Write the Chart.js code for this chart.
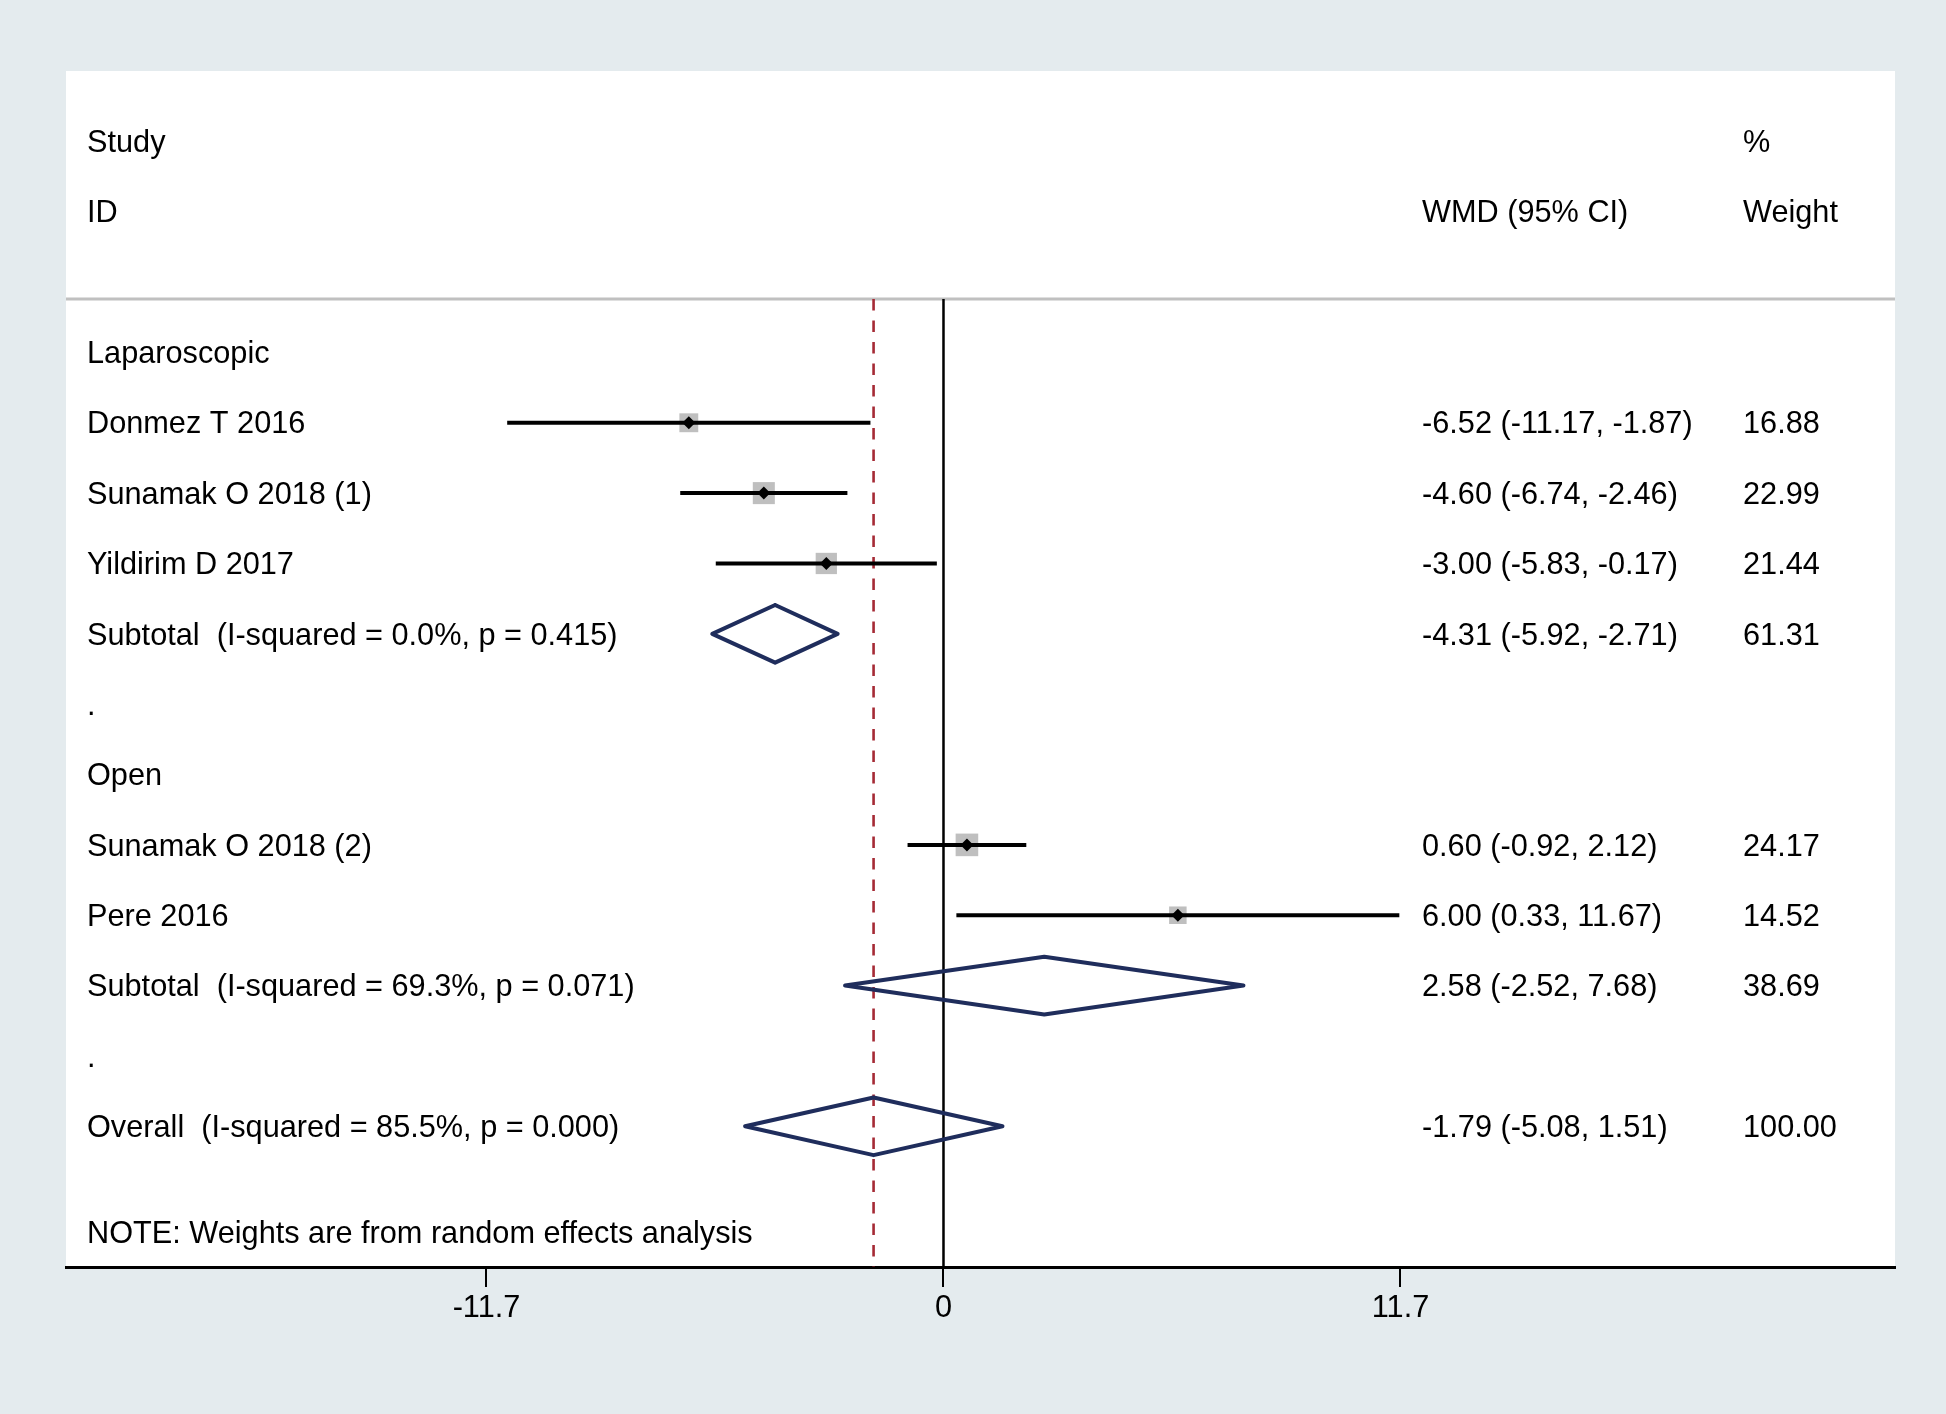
<!DOCTYPE html>
<html lang="en">
<head>
    <meta charset="UTF-8">
    <title>Forest plot: WMD (95% CI)</title>
    <script src="https://cdn.jsdelivr.net/npm/chart.js"></script>
    <style>
        html, body { margin: 0; padding: 0; background: #e4ebee; }
        #wrap { width: 1946px; height: 1414px; position: relative; }
    </style>
</head>
<body>
    <div id="wrap"><canvas id="forest"></canvas></div>

    <script>
        // studies (row = line in the plot, counted from "Laparoscopic" = 0)
        const studyLabels = ['Donmez T 2016', 'Sunamak O 2018 (1)', 'Yildirim D 2017', 'Sunamak O 2018 (2)', 'Pere 2016'];
        const studyRows = [1, 2, 3, 7, 8];
        const studyWmd = [-6.52, -4.60, -3.00, 0.60, 6.00];
        const studyLo = [-11.17, -6.74, -5.83, -0.92, 0.33];
        const studyHi = [-1.87, -2.46, -0.17, 2.12, 11.67];
        const studyWeight = [16.88, 22.99, 21.44, 24.17, 14.52];

        // subtotals and overall
        const pooledLabels = [
            'Subtotal  (I-squared = 0.0%, p = 0.415)',
            'Subtotal  (I-squared = 69.3%, p = 0.071)',
            'Overall  (I-squared = 85.5%, p = 0.000)'
        ];
        const pooledRows = [4, 9, 11];
        const pooledWmd = [-4.31, 2.58, -1.79];
        const pooledLo = [-5.92, -2.52, -5.08];
        const pooledHi = [-2.71, 7.68, 1.51];
        const pooledWeight = [61.31, 38.69, 100.00];

        // group headings and spacer rows
        const groupLabels = ['Laparoscopic', '.', 'Open', '.'];
        const groupRows = [0, 5, 6, 10];

        const noteText = 'NOTE: Weights are from random effects analysis';
        const xTicks = [-11.7, 0, 11.7];
        const overallWmd = pooledWmd[2];

        const FONT = "30.7px 'Liberation Sans', Arial, sans-serif";
        const ROW_TOP = -4, ROW_BOTTOM = 13, HEADER_ROW = -0.76, NOTE_ROW = 12.5;

        const datasets = [];

        // reference lines
        datasets.push({
            data: [{ x: 0, y: HEADER_ROW }, { x: 0, y: ROW_BOTTOM }],
            borderColor: '#000', borderWidth: 2.5, order: 6
        });
        datasets.push({
            data: [{ x: overallWmd, y: HEADER_ROW }, { x: overallWmd, y: ROW_BOTTOM }],
            borderColor: '#a52a35', borderWidth: 2.6, borderDash: [11.5, 10], order: 5
        });

        // weight squares
        datasets.push({
            type: 'scatter',
            data: studyWmd.map((v, i) => ({ x: v, y: studyRows[i] })),
            pointStyle: 'rect',
            pointRadius: studyWeight.map(w => 3.25 * Math.sqrt(w)),
            backgroundColor: '#bfbfbf', borderWidth: 0, order: 4
        });

        // confidence intervals
        studyLo.forEach((lo, i) => {
            datasets.push({
                data: [{ x: lo, y: studyRows[i] }, { x: studyHi[i], y: studyRows[i] }],
                borderColor: '#000', borderWidth: 4, borderCapStyle: 'butt', order: 3
            });
        });

        // point estimates
        datasets.push({
            type: 'scatter',
            data: studyWmd.map((v, i) => ({ x: v, y: studyRows[i] })),
            pointStyle: 'rectRot', pointRadius: 6.5,
            backgroundColor: '#000', borderWidth: 0, order: 1
        });

        // pooled diamonds
        pooledWmd.forEach((v, i) => {
            const r = pooledRows[i];
            datasets.push({
                data: [
                    { x: v, y: r - 0.41 }, { x: pooledHi[i], y: r },
                    { x: v, y: r + 0.41 }, { x: pooledLo[i], y: r },
                    { x: v, y: r - 0.41 }
                ],
                borderColor: '#1f2d5c', borderWidth: 4,
                borderJoinStyle: 'round', borderCapStyle: 'round', order: 2
            });
        });

        const forestText = {
            id: 'forestText',
            beforeDraw(chart) {
                const { ctx, chartArea: a, scales } = chart;
                ctx.save();
                ctx.fillStyle = '#fff';
                ctx.fillRect(a.left, a.top, a.right - a.left, a.bottom - a.top);
                const hy = scales.y.getPixelForValue(HEADER_ROW);
                ctx.strokeStyle = '#c0c0c0';
                ctx.lineWidth = 3;
                ctx.beginPath();
                ctx.moveTo(a.left, hy);
                ctx.lineTo(a.right, hy);
                ctx.stroke();
                ctx.restore();
            },
            afterDraw(chart) {
                const { ctx, chartArea: a, scales } = chart;
                const y = scales.y;
                const base = row => y.getPixelForValue(row) + 10.7;
                const colLabel = a.left + 21;
                const colWmd = a.right - 473;
                const colWeight = a.right - 152;
                const ci = (v, lo, hi) => `${v.toFixed(2)} (${lo.toFixed(2)}, ${hi.toFixed(2)})`;
                ctx.save();
                ctx.font = FONT;
                ctx.fillStyle = '#000';
                ctx.textBaseline = 'alphabetic';
                ctx.textAlign = 'left';

                ctx.fillText('Study', colLabel, base(-3));
                ctx.fillText('ID', colLabel, base(-2));
                ctx.fillText('%', colWeight, base(-3));
                ctx.fillText('WMD (95% CI)', colWmd, base(-2));
                ctx.fillText('Weight', colWeight, base(-2));

                groupLabels.forEach((t, i) => ctx.fillText(t, colLabel, base(groupRows[i])));

                studyLabels.forEach((t, i) => {
                    const py = base(studyRows[i]);
                    ctx.fillText(t, colLabel, py);
                    ctx.fillText(ci(studyWmd[i], studyLo[i], studyHi[i]), colWmd, py);
                    ctx.fillText(studyWeight[i].toFixed(2), colWeight, py);
                });

                pooledLabels.forEach((t, i) => {
                    const py = base(pooledRows[i]);
                    ctx.fillText(t, colLabel, py);
                    ctx.fillText(ci(pooledWmd[i], pooledLo[i], pooledHi[i]), colWmd, py);
                    ctx.fillText(pooledWeight[i].toFixed(2), colWeight, py);
                });

                ctx.fillText(noteText, colLabel, base(NOTE_ROW));
                ctx.restore();
            }
        };

        new Chart(document.getElementById('forest'), {
            type: 'line',
            data: { datasets },
            options: {
                responsive: true,
                maintainAspectRatio: false,
                animation: false,
                layout: { padding: { left: 66, right: 51, top: 71, bottom: 0 } },
                elements: {
                    point: { radius: 0 },
                    line: { tension: 0, fill: false }
                },
                plugins: { legend: { display: false }, tooltip: { enabled: false } },
                scales: {
                    x: {
                        type: 'linear',
                        min: -22.465,
                        max: 24.36,
                        afterBuildTicks: s => { s.ticks = xTicks.map(v => ({ value: v })); },
                        afterFit: s => { s.height = 147; },
                        ticks: {
                            autoSkip: false,
                            maxRotation: 0,
                            padding: 3,
                            color: '#000',
                            font: { family: "'Liberation Sans', Arial, sans-serif", size: 30.7 },
                            callback: v => String(v)
                        },
                        grid: { drawOnChartArea: false, drawTicks: true, tickLength: 20, color: '#000', lineWidth: 2 },
                        border: { display: true, color: '#000', width: 3 }
                    },
                    y: {
                        type: 'linear',
                        display: false,
                        reverse: true,
                        min: ROW_TOP,
                        max: ROW_BOTTOM
                    }
                }
            },
            plugins: [forestText]
        });
    </script>
</body>
</html>
